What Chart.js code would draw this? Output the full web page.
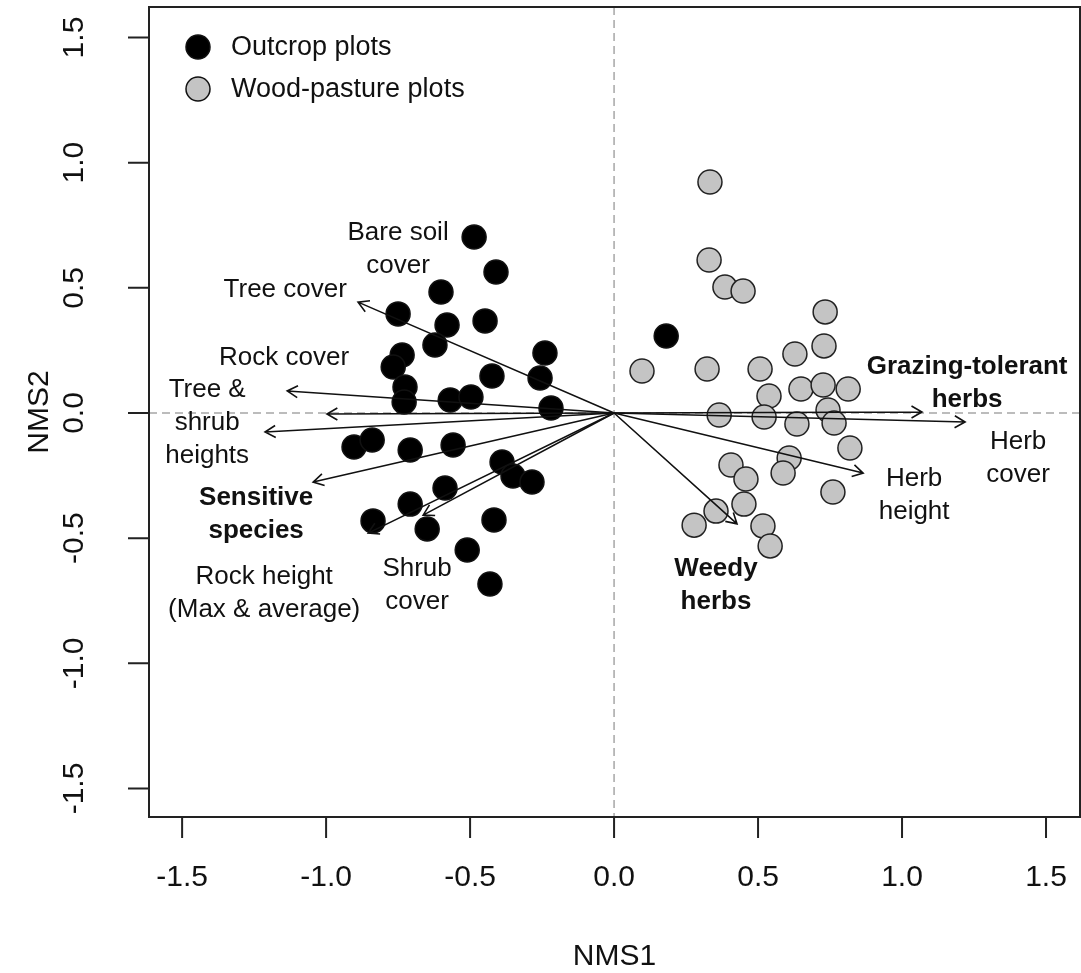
<!DOCTYPE html>
<html lang="en">
<head>
    <meta charset="UTF-8">
    <title>NMS ordination</title>
    <script src="https://cdn.jsdelivr.net/npm/chart.js"></script>
    <style>
        body {
            margin: 0;
            background: white;
        }
        #wrap {
            width: 1081px;
            height: 973px;
        }
    </style>
</head>
<body>
    <div id="wrap">
        <canvas id="nms-chart" width="1081" height="973"></canvas>
    </div>
    <script>
        // plot scores (NMS1, NMS2)
        const outcropX = [-0.486, -0.410, -0.601, -0.750, -0.580, -0.448, -0.622, -0.736, -0.767, -0.240,
            -0.424, -0.257, -0.726, -0.729, -0.569, -0.497, -0.219, -0.903, -0.840, -0.708,
            -0.559, -0.389, -0.351, -0.285, -0.587, -0.708, -0.837, -0.649, -0.417, -0.510,
            -0.431, 0.181];
        const outcropY = [0.703, 0.563, 0.483, 0.396, 0.352, 0.368, 0.272, 0.232, 0.184, 0.240,
            0.148, 0.140, 0.104, 0.044, 0.052, 0.064, 0.020, -0.136, -0.108, -0.148,
            -0.128, -0.196, -0.252, -0.276, -0.300, -0.364, -0.431, -0.463, -0.427, -0.547,
            -0.683, 0.308];

        const pastureX = [0.333, 0.330, 0.385, 0.448, 0.733, 0.729, 0.628, 0.097, 0.323, 0.507,
            0.538, 0.649, 0.726, 0.813, 0.743, 0.365, 0.521, 0.635, 0.764, 0.819,
            0.608, 0.406, 0.587, 0.458, 0.760, 0.451, 0.354, 0.278, 0.517, 0.542];
        const pastureY = [0.923, 0.611, 0.503, 0.487, 0.404, 0.268, 0.236, 0.168, 0.176, 0.176,
            0.068, 0.096, 0.112, 0.096, 0.012, -0.008, -0.016, -0.044, -0.040, -0.140,
            -0.180, -0.208, -0.240, -0.264, -0.316, -0.364, -0.392, -0.448, -0.451, -0.531];

        // environmental vectors (arrow tips)
        const vectorNames = ["Tree cover", "Rock cover", "Tree height", "Shrub height", "Sensitive species",
            "Rock height", "Shrub cover", "Grazing-tolerant herbs", "Herb cover", "Herb height", "Weedy herbs"];
        const vectorX = [-0.889, -1.135, -0.997, -1.212, -1.045, -0.854, -0.663, 1.069, 1.219, 0.865, 0.427];
        const vectorY = [0.443, 0.088, -0.004, -0.076, -0.276, -0.480, -0.408, 0.004, -0.036, -0.240, -0.443];

        const tickValues = [-1.5, -1.0, -0.5, 0.0, 0.5, 1.0, 1.5];

        // vector labels, anchored in data units
        const vectorLabels = [
            { lines: ["Bare soil", "cover"], x: -0.75, y: 0.652, bold: false },
            { lines: ["Tree cover"], x: -1.142, y: 0.491, bold: false },
            { lines: ["Rock cover"], x: -1.146, y: 0.220, bold: false },
            { lines: ["Tree &", "shrub", "heights"], x: -1.413, y: -0.04, bold: false },
            { lines: ["Sensitive", "species"], x: -1.243, y: -0.403, bold: true },
            { lines: ["Rock height", "(Max & average)"], x: -1.215, y: -0.719, bold: false },
            { lines: ["Shrub", "cover"], x: -0.684, y: -0.687, bold: false },
            { lines: ["Grazing-tolerant", "herbs"], x: 1.226, y: 0.120, bold: true },
            { lines: ["Herb", "cover"], x: 1.403, y: -0.18, bold: false },
            { lines: ["Herb", "height"], x: 1.042, y: -0.328, bold: false },
            { lines: ["Weedy", "herbs"], x: 0.354, y: -0.687, bold: true }
        ];

        const FONT = "'Liberation Sans', Arial, sans-serif";

        const toPoints = (xs, ys) => xs.map((x, i) => ({ x: x, y: ys[i] }));

        const drawArrow = (ctx, x0, y0, x1, y1) => {
            const ang = Math.atan2(y1 - y0, x1 - x0);
            const head = 12;
            ctx.beginPath();
            ctx.moveTo(x0, y0);
            ctx.lineTo(x1, y1);
            ctx.moveTo(x1 - head * Math.cos(ang - Math.PI / 6), y1 - head * Math.sin(ang - Math.PI / 6));
            ctx.lineTo(x1, y1);
            ctx.lineTo(x1 - head * Math.cos(ang + Math.PI / 6), y1 - head * Math.sin(ang + Math.PI / 6));
            ctx.stroke();
        };

        // dashed zero lines under the points
        const zeroLines = {
            id: "zeroLines",
            beforeDatasetsDraw(chart) {
                const { ctx, chartArea: a, scales: { x, y } } = chart;
                ctx.save();
                ctx.strokeStyle = "#a6a6a6";
                ctx.lineWidth = 1.5;
                ctx.setLineDash([8, 5]);
                ctx.beginPath();
                ctx.moveTo(x.getPixelForValue(0), a.top);
                ctx.lineTo(x.getPixelForValue(0), a.bottom);
                ctx.moveTo(a.left, y.getPixelForValue(0));
                ctx.lineTo(a.right, y.getPixelForValue(0));
                ctx.stroke();
                ctx.restore();
            }
        };

        // box, ticks, axis titles, arrows, labels, legend
        const frame = {
            id: "frame",
            afterDatasetsDraw(chart) {
                const { ctx, chartArea: a, scales: { x, y } } = chart;
                ctx.save();

                // arrows
                ctx.strokeStyle = "#111";
                ctx.lineWidth = 1.6;
                const ox = x.getPixelForValue(0), oy = y.getPixelForValue(0);
                vectorX.forEach((vx, i) => {
                    drawArrow(ctx, ox, oy, x.getPixelForValue(vx), y.getPixelForValue(vectorY[i]));
                });

                // vector labels
                ctx.fillStyle = "#111";
                ctx.textAlign = "center";
                ctx.textBaseline = "middle";
                vectorLabels.forEach(lab => {
                    ctx.font = (lab.bold ? "bold " : "") + "26px " + FONT;
                    const cx = x.getPixelForValue(lab.x), cy = y.getPixelForValue(lab.y);
                    const step = 33;
                    const top = cy - step * (lab.lines.length - 1) / 2;
                    lab.lines.forEach((t, k) => ctx.fillText(t, cx, top + k * step));
                });

                // box
                ctx.strokeStyle = "#222";
                ctx.lineWidth = 2;
                ctx.strokeRect(a.left, a.top, a.right - a.left, a.bottom - a.top);

                // ticks + tick labels
                ctx.font = "30px " + FONT;
                ctx.fillStyle = "#111";
                ctx.beginPath();
                tickValues.forEach(v => {
                    const px = x.getPixelForValue(v);
                    ctx.moveTo(px, a.bottom);
                    ctx.lineTo(px, a.bottom + 21);
                    const py = y.getPixelForValue(v);
                    ctx.moveTo(a.left, py);
                    ctx.lineTo(a.left - 21, py);
                });
                ctx.stroke();
                ctx.textAlign = "center";
                ctx.textBaseline = "middle";
                tickValues.forEach(v => {
                    ctx.fillText(v.toFixed(1), x.getPixelForValue(v), 878);
                    ctx.save();
                    ctx.translate(75, y.getPixelForValue(v));
                    ctx.rotate(-Math.PI / 2);
                    ctx.fillText(v.toFixed(1), 0, 0);
                    ctx.restore();
                });

                // axis titles
                ctx.fillText("NMS1", (a.left + a.right) / 2, 957);
                ctx.save();
                ctx.translate(40, (a.top + a.bottom) / 2);
                ctx.rotate(-Math.PI / 2);
                ctx.fillText("NMS2", 0, 0);
                ctx.restore();

                // legend
                ctx.font = "27px " + FONT;
                ctx.textAlign = "left";
                chart.data.datasets.forEach((ds, i) => {
                    const ly = 47 + i * 42;
                    ctx.beginPath();
                    ctx.arc(198, ly, 12, 0, Math.PI * 2);
                    ctx.fillStyle = ds.backgroundColor;
                    ctx.fill();
                    ctx.lineWidth = 1.5;
                    ctx.strokeStyle = "#111";
                    ctx.stroke();
                    ctx.fillStyle = "#111";
                    ctx.fillText(ds.label, 231, ly + 1);
                });

                ctx.restore();
            }
        };

        const nmsChart = new Chart(document.getElementById("nms-chart"), {
            type: "scatter",
            data: {
                datasets: [
                    {
                        label: "Outcrop plots",
                        data: toPoints(outcropX, outcropY),
                        backgroundColor: "#000000",
                        borderColor: "#111111",
                        borderWidth: 1.5,
                        pointRadius: 12
                    },
                    {
                        label: "Wood-pasture plots",
                        data: toPoints(pastureX, pastureY),
                        backgroundColor: "#c4c4c4",
                        borderColor: "#222222",
                        borderWidth: 1.5,
                        pointRadius: 12
                    }
                ]
            },
            options: {
                responsive: false,
                animation: false,
                devicePixelRatio: 1,
                layout: {
                    autoPadding: false,
                    padding: { left: 149, right: 1, top: 7, bottom: 156 }
                },
                plugins: { legend: { display: false }, tooltip: { enabled: false } },
                scales: {
                    x: { type: "linear", min: -1.615, max: 1.618, display: false },
                    y: { type: "linear", min: -1.614, max: 1.622, display: false }
                }
            },
            plugins: [zeroLines, frame]
        });
    </script>
</body>
</html>
